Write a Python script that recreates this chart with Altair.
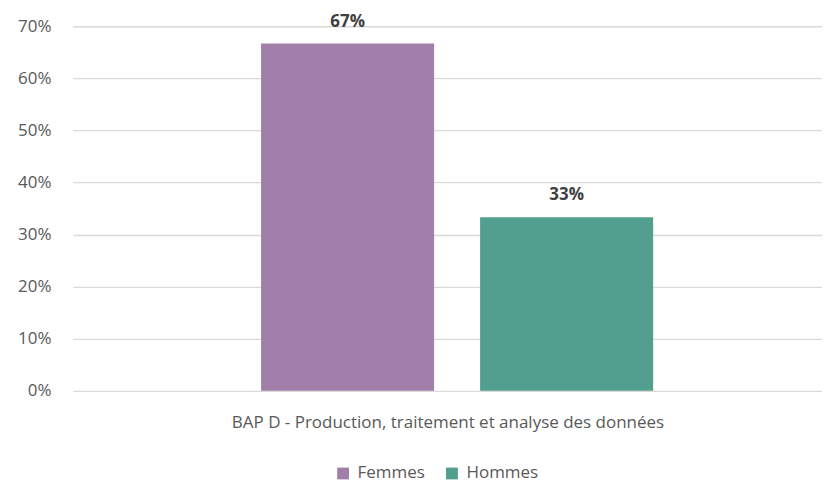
import altair as alt
import pandas as pd

series = ["Femmes", "Hommes"]
values = [0.6667, 0.3333]
labels = ["67%", "33%"]
colors = ["#A27FAA", "#529E8F"]
category = "BAP D - Production, traitement et analyse des données"
y_ticks = [0, 0.1, 0.2, 0.3, 0.4, 0.5, 0.6, 0.7]

df = pd.DataFrame({"Série": series, "Valeur": values, "Label": labels})

FONT = "Open Sans"
FS = 17

xscale = alt.Scale(domain=series, paddingInner=0.21, paddingOuter=0.815, align=0.527)

x = alt.X(
    "Série:N",
    scale=xscale,
    axis=alt.Axis(labels=False, ticks=False, domain=False, title=category,
                  titleFont=FONT, titleFontSize=FS, titleFontWeight="normal",
                  titleColor="#595959", titlePadding=24),
)

bars = alt.Chart(df).mark_bar().encode(
    x=x,
    y=alt.Y("Valeur:Q",
            scale=alt.Scale(domain=[0, 0.7], nice=False),
            axis=alt.Axis(values=y_ticks, format=".0%", title=None, domain=False, ticks=False,
                          labelFont=FONT, labelFontSize=FS, labelColor="#595959",
                          labelPadding=22, gridColor="#D9D9D9", gridWidth=1.3)),
    color=alt.Color("Série:N", scale=alt.Scale(domain=series, range=colors),
                    legend=alt.Legend(title=None, orient="none", direction="horizontal",
                                      legendX=262, legendY=439, symbolType="square",
                                      symbolSize=140, symbolStrokeWidth=0,
                                      labelFont=FONT, labelFontSize=FS, labelColor="#595959",
                                      columnPadding=18, labelOffset=6)),
)

text = alt.Chart(df).mark_text(dy=-22, font=FONT, fontSize=FS, fontWeight="bold",
                               color="#404040", baseline="middle").encode(
    x=alt.X("Série:N", scale=xscale),
    y="Valeur:Q",
    text="Label:N",
)

chart = (bars + text).properties(
    width=750, height=365,
    autosize=alt.AutoSizeParams(type="none"),
    padding={"left": 65, "top": 18, "right": 0, "bottom": 92},
).configure_view(stroke=None)

chart.save("out.html", embed_options={"renderer": "svg", "actions": False})
